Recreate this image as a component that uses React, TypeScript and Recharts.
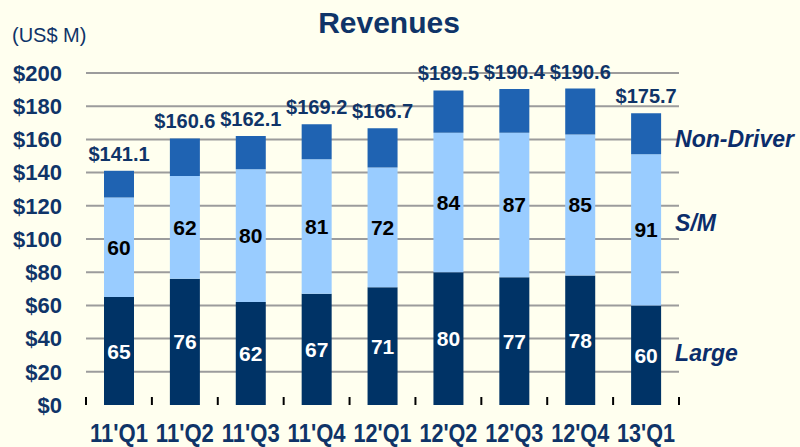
import React from 'react';
import { Bar, BarChart, CartesianGrid, LabelList, XAxis, YAxis } from 'recharts';

const quarters = ["11'Q1", "11'Q2", "11'Q3", "11'Q4", "12'Q1", "12'Q2", "12'Q3", "12'Q4", "13'Q1"];
const large = [65, 76, 62, 67, 71, 80, 77, 78, 60];
const smallMid = [60, 62, 80, 81, 72, 84, 87, 85, 91];
const nonDriver = [16.1, 22.6, 20.1, 21.2, 23.7, 25.5, 26.4, 27.6, 24.7];
const totals = [141.1, 160.6, 162.1, 169.2, 166.7, 189.5, 190.4, 190.6, 175.7];
const yTicks = [0, 20, 40, 60, 80, 100, 120, 140, 160, 180, 200];
const gridValues = [20, 40, 60, 80, 100, 120, 140, 160, 180, 200];

const rows = quarters.map((q, i) => ({
  quarter: q,
  large: large[i],
  sm: smallMid[i],
  nonDriver: nonDriver[i],
  total: totals[i],
}));

const NAVY = '#0f3468';
const FONT = 'Arial, "Liberation Sans", sans-serif';
const LAST = quarters.length - 1;

/** X tick: category label plus small boundary marks between bands. */
function QuarterTick(props: any) {
  const { x, y, payload, index } = props;
  const half = payload?.offset || 33;
  return (
    <g>
      <line x1={x - half} x2={x - half} y1={y - 8} y2={y} stroke="#000" strokeWidth={2} />
      {index === LAST && (
        <line x1={x + half} x2={x + half} y1={y - 8} y2={y} stroke="#000" strokeWidth={2} />
      )}
      <text
        x={x}
        y={y + 37}
        textAnchor="middle"
        fill={NAVY}
        fontFamily={FONT}
        fontWeight={700}
        fontSize={25}
        textLength={58}
        lengthAdjust="spacingAndGlyphs"
      >
        {payload.value}
      </text>
    </g>
  );
}

/** Series name drawn to the right of the last bar. */
const sideLabel = (text: string, dy: number) => (props: any) => {
  if (props.index !== LAST) return null;
  const vb = props.viewBox || props;
  return (
    <text
      x={vb.x + vb.width + 14}
      y={vb.y + vb.height / 2 + dy}
      dominantBaseline="central"
      fill="#0b2d6b"
      fontFamily={FONT}
      fontWeight={700}
      fontStyle="italic"
      fontSize={23}
    >
      {text}
    </text>
  );
};

export default function App() {
  return (
    <div
      style={{
        position: 'absolute',
        left: 0,
        top: 0,
        width: 800,
        height: 447,
        background: '#FFFFEF',
        fontFamily: FONT,
      }}
    >
      <div
        style={{
          position: 'absolute',
          left: 0,
          width: 778,
          top: 8,
          textAlign: 'center',
          fontSize: 30,
          lineHeight: 1,
          fontWeight: 700,
          color: NAVY,
        }}
      >
        Revenues
      </div>
      <div
        style={{
          position: 'absolute',
          left: 12,
          top: 25,
          fontSize: 20,
          lineHeight: 1,
          color: NAVY,
        }}
      >
        (US$ M)
      </div>
      <BarChart
        width={800}
        height={447}
        data={rows}
        margin={{ top: 73, right: 121, bottom: 0, left: 0 }}
        barSize={30}
      >
        <CartesianGrid
          vertical={false}
          horizontalValues={gridValues}
          stroke="#9c9c9c"
          strokeWidth={2}
        />
        <XAxis
          dataKey="quarter"
          height={42}
          axisLine={false}
          tickLine={false}
          tickSize={0}
          tickMargin={0}
          interval={0}
          tick={<QuarterTick />}
        />
        <YAxis
          width={86}
          domain={[0, 200]}
          ticks={yTicks}
          axisLine={false}
          tickLine={false}
          tickSize={0}
          tickMargin={24}
          tickFormatter={(v: number) => `$${v}`}
          tick={{ fill: NAVY, fontSize: 22, fontWeight: 700, fontFamily: FONT }}
        />
        <Bar dataKey="large" stackId="rev" fill="#003366" isAnimationActive={false}>
          <LabelList
            dataKey="large"
            position="center"
            fill="#ffffff"
            fontSize={21}
            fontWeight={700}
            fontFamily={FONT}
          />
          <LabelList dataKey="large" content={sideLabel('Large', -2)} />
        </Bar>
        <Bar dataKey="sm" stackId="rev" fill="#99CCFF" isAnimationActive={false}>
          <LabelList
            dataKey="sm"
            position="center"
            fill="#000000"
            fontSize={21}
            fontWeight={700}
            fontFamily={FONT}
          />
          <LabelList dataKey="sm" content={sideLabel('S/M', -7)} />
        </Bar>
        <Bar dataKey="nonDriver" stackId="rev" fill="#1F63B2" isAnimationActive={false}>
          <LabelList
            dataKey="total"
            position="top"
            offset={10}
            formatter={(v: any) => `$${Number(v).toFixed(1)}`}
            fill={NAVY}
            fontSize={20}
            fontWeight={700}
            fontFamily={FONT}
          />
          <LabelList dataKey="nonDriver" content={sideLabel('Non-Driver', 5)} />
        </Bar>
      </BarChart>
    </div>
  );
}
